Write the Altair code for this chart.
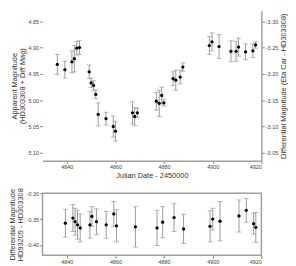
import altair as alt
import pandas as pd

# ---- data ----
top_jd = [4836.1, 4839.2, 4842.1, 4843.1, 4844.1, 4845.2, 4849.2, 4850.0, 4851.0, 4851.9,
          4852.9, 4856.1, 4859.1, 4860.0, 4867.0, 4867.9, 4869.0, 4876.8, 4878.0, 4879.0,
          4879.9, 4883.7, 4884.8, 4886.6, 4887.7, 4898.6, 4899.7, 4902.6, 4907.5, 4909.6,
          4910.6, 4913.5, 4916.5, 4917.6]
top_mag = [4.932, 4.942, 4.927, 4.921, 4.901, 4.900, 4.946, 4.967, 4.972, 4.989,
           5.027, 5.035, 5.050, 5.059, 5.024, 5.031, 5.024, 5.002, 5.006, 4.991,
           5.005, 4.959, 4.962, 4.956, 4.937, 4.896, 4.889, 4.898, 4.907, 4.907,
           4.899, 4.908, 4.906, 4.895]
top_err = [0.019, 0.016, 0.021, 0.025, 0.013, 0.013, 0.013, 0.009, 0.009, 0.008,
           0.022, 0.012, 0.020, 0.019, 0.021, 0.017, 0.009, 0.017, 0.025, 0.016,
           0.006, 0.013, 0.019, 0.013, 0.008, 0.017, 0.017, 0.023, 0.020, 0.019,
           0.017, 0.015, 0.013, 0.006]

bot_jd = [4839.4, 4842.5, 4843.4, 4844.4, 4845.5, 4849.5, 4850.3, 4852.2, 4856.2, 4859.3,
          4860.4, 4868.2, 4877.1, 4879.4, 4884.1, 4888.0, 4898.9, 4900.0, 4903.0, 4910.8,
          4913.8, 4916.8, 4917.7]
bot_dm = [-0.358, -0.348, -0.355, -0.361, -0.367, -0.361, -0.345, -0.355, -0.361, -0.340,
          -0.363, -0.365, -0.367, -0.356, -0.347, -0.369, -0.364, -0.350, -0.354, -0.344,
          -0.333, -0.359, -0.366]
bot_err = [0.027, 0.026, 0.026, 0.028, 0.027, 0.026, 0.019, 0.025, 0.026, 0.024,
           0.031, 0.039, 0.034, 0.030, 0.027, 0.028, 0.030, 0.021, 0.038, 0.031,
           0.023, 0.020, 0.029]

x_ticks = [4840, 4860, 4880, 4900, 4920]
left_ticks = [4.85, 4.90, 4.95, 5.00, 5.05, 5.10]
right_ticks = [-3.30, -3.25, -3.20, -3.15, -3.10, -3.05]
bot_ticks = [-0.30, -0.35, -0.40]
OFFSET = 8.15  # apparent mag = diff mag + OFFSET

top_df = pd.DataFrame({"jd": top_jd, "mag": top_mag, "err": top_err})
top_df["lo"] = top_df["mag"] - top_df["err"]
top_df["hi"] = top_df["mag"] + top_df["err"]
bot_df = pd.DataFrame({"jd": bot_jd, "dm": bot_dm, "err": bot_err})
bot_df["lo"] = bot_df["dm"] - bot_df["err"]
bot_df["hi"] = bot_df["dm"] + bot_df["err"]

W = 222
BAR = "#9a9a9a"
NEG = "'-' + format(abs(datum.value), '.2f')"

xscale = alt.Scale(domain=[4830, 4920], nice=False, zero=False)
common_axis = dict(grid=False, tickSize=3, tickColor="#888", labelFontSize=5.5,
                   titleFontSize=7.5, titleFontWeight="normal", labelPadding=1,
                   titlePadding=2, titleLineHeight=7.5)

x_top = alt.Axis(values=x_ticks, format="d", title="Julian Date - 2450000",
                 domain=True, domainColor="#a0a0a0", domainWidth=1.5, **common_axis)
x_bot = alt.Axis(values=x_ticks, format="d", title=None, domain=False, **common_axis)

TOP_DOM = [4.83, 5.115]
ys_top = alt.Scale(domain=TOP_DOM, reverse=True, nice=False, zero=False)
ys_right = alt.Scale(domain=[TOP_DOM[0] - OFFSET, TOP_DOM[1] - OFFSET], reverse=True,
                     nice=False, zero=False)
ys_bot = alt.Scale(domain=[-0.42, -0.30], nice=False, zero=False)

left_axis = alt.Axis(values=left_ticks, format=".2f",
                     title=["Apparent Magnitude", "(HD303308 + Diff Mag)"],
                     domain=False, **common_axis)
right_axis = alt.Axis(orient="right", values=right_ticks, labelExpr=NEG,
                      title="Differential Magnitude (Eta Car - HD303308)",
                      titleAngle=270, titleBaseline="top",
                      domain=True, domainColor="#a0a0a0", domainWidth=1.5, **common_axis)
bot_axis = alt.Axis(values=bot_ticks, labelExpr=NEG,
                    title=["Differential Magnitude", "HD93205 - HD303308"],
                    domain=False, **common_axis)


def errlayers(df, field, xaxis, yscale, yaxis):
    base = alt.Chart(df)
    x = alt.X("jd:Q", scale=xscale, axis=xaxis)
    rule = base.mark_rule(color=BAR, strokeWidth=1).encode(
        x=x, y=alt.Y("lo:Q", scale=yscale, axis=yaxis), y2="hi:Q")
    cap_lo = base.mark_tick(orient="horizontal", size=5, thickness=1, color=BAR).encode(
        x=x, y=alt.Y("lo:Q", scale=yscale, axis=yaxis))
    cap_hi = base.mark_tick(orient="horizontal", size=5, thickness=1, color=BAR).encode(
        x=x, y=alt.Y("hi:Q", scale=yscale, axis=yaxis))
    dots = base.mark_circle(size=11, color="black", opacity=1).encode(
        x=x, y=alt.Y(f"{field}:Q", scale=yscale, axis=yaxis))
    return alt.layer(rule, cap_lo, cap_hi, dots)


left_layers = errlayers(top_df, "mag", x_top, ys_top, left_axis)
# invisible layer that carries the right-hand (differential magnitude) axis
right_layer = alt.Chart(top_df).transform_calculate(
    dm=f"datum.mag - {OFFSET}"
).mark_point(opacity=0).encode(
    y=alt.Y("dm:Q", scale=ys_right, axis=right_axis),
)

top = alt.layer(left_layers, right_layer).resolve_scale(y="independent").properties(
    width=W, height=152, view=alt.ViewBackground(stroke="transparent"))

bottom = errlayers(bot_df, "dm", x_bot, ys_bot, bot_axis).properties(
    width=W, height=63, view=alt.ViewBackground(stroke="#a0a0a0", strokeWidth=1.5))

chart = alt.vconcat(top, bottom, spacing=6).properties(
    padding={"left": 0, "top": 0, "right": 0, "bottom": 0}
).configure(font="Liberation Sans").configure_axis(
    labelColor="#444", titleColor="#333", labelFont="Liberation Sans", titleFont="Liberation Sans"
)

chart.save("out.html", embed_options={"renderer": "svg", "actions": False})
